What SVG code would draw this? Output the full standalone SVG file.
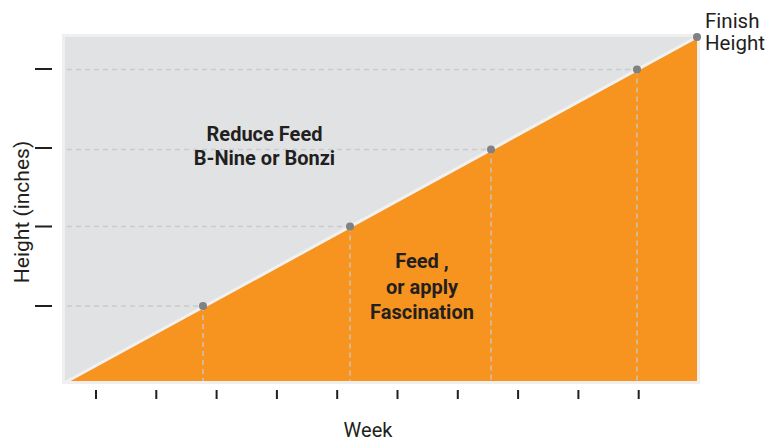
<svg xmlns="http://www.w3.org/2000/svg" width="766" height="440" viewBox="0 0 766 440">
<style>
.lbl{font-family:Roboto,"Liberation Sans",Arial,sans-serif;fill:#231f20}
.bold{font-family:Roboto,"Liberation Sans",Arial,sans-serif;font-weight:700;font-size:20px;fill:#231f20;text-anchor:middle}
.dash{stroke:#c9cacc;stroke-width:1.3;stroke-dasharray:5 4;fill:none}
.tick{stroke:#231f20;stroke-width:2}
.dot{fill:#808184}
</style>
<rect width="766" height="440" fill="#ffffff"/>
<g id="plot">
<rect x="62" y="34" width="638" height="350" fill="#efefef"/>
<rect x="65" y="37" width="632" height="344" fill="#e1e2e4"/>
<polygon points="68,381 697,37 697,381" fill="#f7941f"/>
<line x1="65" y1="382.5" x2="697" y2="37" stroke="#f1f1f1" stroke-width="3"/>
</g>
<g id="connectors">
<path class="dash" d="M67 306H203M67 226.5H350M67 149.5H491M67 69.5H637"/>
<path class="dash" d="M203 306V381M350 226.5V381M491 149.5V381M637 69.5V381"/>
</g>
<g id="points">
<circle class="dot" cx="203" cy="306" r="4"/>
<circle class="dot" cx="350" cy="226.5" r="4"/>
<circle class="dot" cx="491" cy="149.5" r="4"/>
<circle class="dot" cx="637" cy="69.5" r="4"/>
<circle class="dot" cx="697" cy="37" r="4"/>
</g>
<g id="y-axis">
<path class="tick" d="M35 69H52M35 148H52M35 226.5H52M35 306H52"/>
<text class="lbl" font-size="21" text-anchor="middle" transform="translate(29 212) rotate(-90)">Height (inches)</text>
</g>
<g id="x-axis">
<path class="tick" d="M96 390V399M156.3 390V399M216.6 390V399M276.9 390V399M337.2 390V399M397.5 390V399M457.8 390V399M518.1 390V399M578.4 390V399M638.7 390V399" stroke-width="1.8"/>
<text class="lbl" font-size="20" x="368" y="436.5" text-anchor="middle">Week</text>
</g>
<g id="finish-label">
<text class="lbl" font-size="20.5" x="705" y="28">Finish</text>
<text class="lbl" font-size="20.5" x="705" y="50">Height</text>
</g>
<g id="reduce-label">
<text class="bold" x="264.5" y="140.5">Reduce Feed</text>
<text class="bold" x="264.5" y="165">B-Nine or Bonzi</text>
</g>
<g id="feed-label">
<text class="bold" x="422" y="268">Feed ,</text>
<text class="bold" x="422" y="293.5">or apply</text>
<text class="bold" x="422" y="319">Fascination</text>
</g>
</svg>
